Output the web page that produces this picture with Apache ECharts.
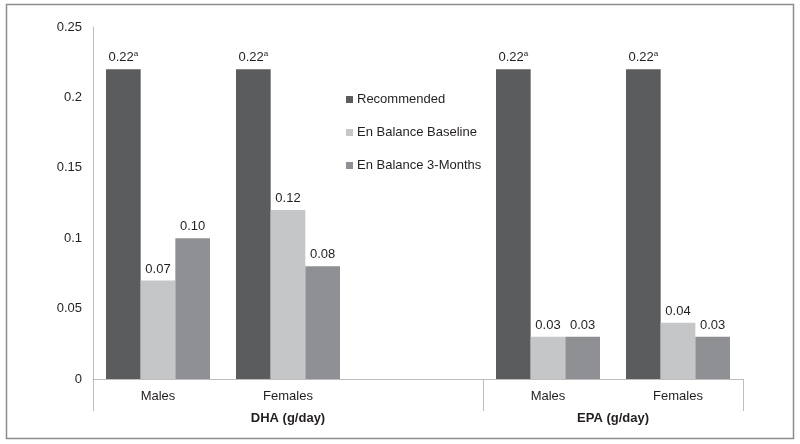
<!DOCTYPE html>
<html>
<head>
<meta charset="utf-8">
<script src="https://cdn.jsdelivr.net/npm/echarts@6/dist/echarts.min.js"></script>
<style>html,body{margin:0;padding:0;background:#fff}#c{width:800px;height:444px}</style>
</head>
<body>
<div id="c"></div>
<script>
var categories = ['Males', 'Females', '', 'Males', 'Females'];
var groupLabels = ['DHA (g/day)', 'EPA (g/day)'];
var seriesNames = ['Recommended', 'En Balance Baseline', 'En Balance 3-Months'];
var recommended = [0.22, 0.22, null, 0.22, 0.22];
var baseline = [0.07, 0.12, null, 0.03, 0.04];
var threeMonths = [0.10, 0.08, null, 0.03, 0.03];
var yTicks = [0, 0.05, 0.1, 0.15, 0.2, 0.25];

var FONT = '"Liberation Sans", Arial, Helvetica, sans-serif';
var TXT = '#231f20';
var AX = '#bdbdbd';

function barLabel(sup) {
  return {
    show: true,
    position: 'top',
    distance: 5,
    fontFamily: FONT,
    fontSize: 13,
    color: TXT,
    formatter: function (p) {
      if (p.value == null) return '';
      var s = '{v|' + p.value.toFixed(2) + '}';
      if (sup) s += '{s|a}';
      return s;
    },
    rich: {
      v: { fontFamily: FONT, fontSize: 13, color: TXT },
      s: { fontFamily: FONT, fontSize: 8, color: TXT, padding: [0, 0, 6, 0] }
    }
  };
}

var chart = echarts.init(document.getElementById('c'), null, { renderer: 'canvas' });
chart.setOption({
  animation: false,
  backgroundColor: '#fff',
  textStyle: { fontFamily: FONT },
  graphic: [{
    type: 'rect',
    shape: { x: 6.5, y: 4.5, width: 787, height: 434 },
    style: { fill: 'none', stroke: '#8c8c8c', lineWidth: 1.5 },
    silent: true
  }],
  legend: {
    orient: 'vertical',
    left: 346,
    top: 93,
    padding: 0,
    itemWidth: 7,
    itemHeight: 7,
    itemGap: 20,
    icon: 'rect',
    textStyle: { fontFamily: FONT, fontSize: 13, color: TXT, padding: [0, 0, 0, -1] },
    data: seriesNames
  },
  grid: { left: 93, right: 57, top: 27, bottom: 65, containLabel: false },
  xAxis: [{
    type: 'category',
    data: categories,
    axisLine: { lineStyle: { color: AX, width: 1 } },
    axisTick: { show: false },
    axisLabel: { fontFamily: FONT, fontSize: 13, color: TXT, margin: 11 },
    splitLine: { show: false }
  }, {
    type: 'value',
    position: 'bottom',
    min: 0,
    max: 5,
    axisLine: { show: false },
    splitLine: { show: false },
    axisTick: { show: true, customValues: [0, 3, 5], length: 32, lineStyle: { color: AX, width: 1 } },
    axisLabel: {
      show: true,
      customValues: [1.5, 4],
      margin: 33,
      fontFamily: FONT,
      fontSize: 13,
      fontWeight: 'bold',
      color: TXT,
      formatter: function (v) { return v < 3 ? groupLabels[0] : groupLabels[1]; }
    }
  }],
  yAxis: {
    type: 'value',
    min: 0,
    max: 0.25,
    interval: 0.05,
    axisLine: { show: true, lineStyle: { color: AX, width: 1 } },
    axisTick: { show: false },
    splitLine: { show: false },
    axisLabel: {
      fontFamily: FONT, fontSize: 13, color: TXT, margin: 11,
      formatter: function (v) { var t = yTicks.find(function (k) { return Math.abs(k - v) < 1e-9; }); return String(t); }
    }
  },
  series: [{
    name: seriesNames[0], type: 'bar', data: recommended,
    itemStyle: { color: '#5b5c5e' }, barGap: '0%', barCategoryGap: '20%',
    label: barLabel(true)
  }, {
    name: seriesNames[1], type: 'bar', data: baseline,
    itemStyle: { color: '#c5c6c8' }, barGap: '0%', barCategoryGap: '20%',
    label: barLabel(false)
  }, {
    name: seriesNames[2], type: 'bar', data: threeMonths,
    itemStyle: { color: '#8f9093' }, barGap: '0%', barCategoryGap: '20%',
    label: barLabel(false)
  }]
});
</script>
</body>
</html>
